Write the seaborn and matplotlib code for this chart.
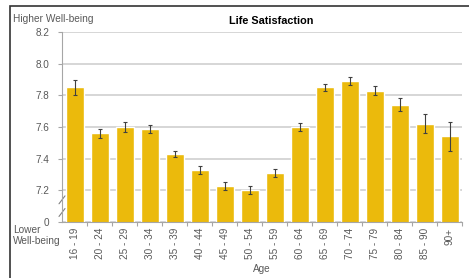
import matplotlib
matplotlib.use("Agg")
import matplotlib.pyplot as plt
import seaborn as sns
import pandas as pd
from matplotlib.patches import Rectangle

# data
age_groups = ["16 - 19", "20 - 24", "25 - 29", "30 - 34", "35 - 39", "40 - 44",
              "45 - 49", "50 - 54", "55 - 59", "60 - 64", "65 - 69", "70 - 74",
              "75 - 79", "80 - 84", "85 - 90", "90+"]
satisfaction = [7.85, 7.56, 7.60, 7.59, 7.43, 7.33, 7.23, 7.20, 7.31, 7.60,
                7.85, 7.89, 7.83, 7.74, 7.62, 7.54]
ci = [0.05, 0.03, 0.03, 0.025, 0.02, 0.025, 0.025, 0.025, 0.025, 0.025,
      0.02, 0.025, 0.03, 0.04, 0.06, 0.09]
y_ticks = [7.0, 7.2, 7.4, 7.6, 7.8, 8.0, 8.2]
y_labels = ["0", "7.2", "7.4", "7.6", "7.8", "8.0", "8.2"]

df = pd.DataFrame({"age": age_groups, "score": satisfaction})

sns.set_style("white")
plt.rcParams["font.family"] = ["Liberation Sans", "DejaVu Sans"]

fig = plt.figure(figsize=(4.69, 2.78), dpi=100)
ax = fig.add_axes([62 / 469, 1 - 222 / 278, 400 / 469, 190 / 278])

sns.barplot(data=df, x="age", y="score", color="#EBBA0C", saturation=1,
            width=0.72, ax=ax, zorder=2)
ax.errorbar(range(len(age_groups)), satisfaction, yerr=ci, fmt="none",
            ecolor="#404040", elinewidth=0.8, capsize=1.5, capthick=0.8, zorder=3)

ax.set_ylim(7.0, 8.2)
ax.set_xlim(-0.5, len(age_groups) - 0.5)
ax.set_yticks(y_ticks)
ax.set_yticklabels(y_labels)
ax.yaxis.grid(True, color="#D6D6D6", linewidth=1.4, zorder=0)
ax.set_axisbelow(True)

for side in ["top", "right"]:
    ax.spines[side].set_visible(False)
for side in ["left", "bottom"]:
    ax.spines[side].set_color("#A6A6A6")
    ax.spines[side].set_linewidth(0.8)

ax.tick_params(axis="y", labelsize=7.2, labelcolor="#595959", length=3,
               color="#A6A6A6", width=0.8, pad=6, left=True)
ax.tick_params(axis="x", labelsize=7.2, labelcolor="#595959", length=0,
               rotation=90, pad=4)
# category separator ticks like the original
ax.set_xticks([i + 0.5 for i in range(len(age_groups))], minor=True)
ax.tick_params(axis="x", which="minor", length=3, color="#A6A6A6", width=0.8,
               bottom=True)

ax.set_xlabel("Age", fontsize=7.2, color="#595959", labelpad=4)
ax.set_ylabel("")

# axis break marks
for yb in [7.06, 7.14]:
    ax.plot([-0.62, -0.38], [yb - 0.025, yb + 0.025], color="#808080",
            linewidth=0.8, clip_on=False, transform=ax.transData)

fig.text(13 / 469, 1 - 19 / 278, "Higher Well-being", fontsize=7.3,
         color="#595959", va="center", ha="left")
fig.text(13 / 469, 1 - 230 / 278, "Lower", fontsize=7.3,
         color="#595959", va="center", ha="left")
fig.text(13 / 469, 1 - 241 / 278, "Well-being", fontsize=7.3,
         color="#595959", va="center", ha="left")
fig.text(271 / 469, 1 - 21 / 278, "Life Satisfaction", fontsize=7.8,
         fontweight="bold", color="black", va="center", ha="center")

# outer frame
fig.patches.append(Rectangle((10 / 469, -0.1), 1.0, 1 - 6 / 278 + 0.1,
                             transform=fig.transFigure, fill=False,
                             edgecolor="#333333", linewidth=1.2))

fig.savefig("out.png", dpi=100)
